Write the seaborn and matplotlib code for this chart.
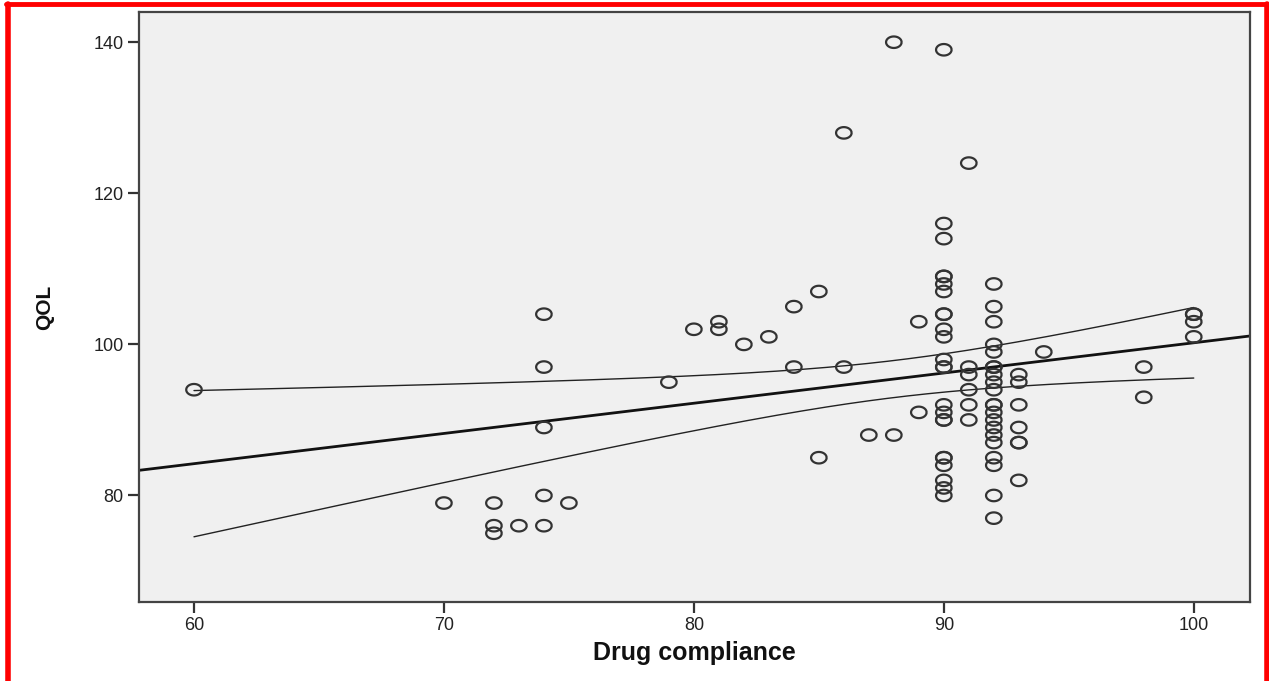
import numpy as np
import pandas as pd
import matplotlib
matplotlib.use("Agg")
import matplotlib.pyplot as plt
from matplotlib.path import Path
from matplotlib.lines import Line2D
import seaborn as sns

# ---- data ----
compliance = (
    [60, 70, 72, 72, 72, 73, 74, 74, 74, 74, 74, 75, 79, 80, 81, 81, 82, 83, 84, 84,
     85, 85, 86, 86, 87, 88, 88, 89, 89]
    + [90] * 24
    + [91] * 6
    + [92] * 21
    + [93] * 7
    + [94, 98, 98, 100, 100, 100, 100]
)
qol = (
    [94, 79, 79, 76, 75, 76, 104, 97, 89, 80, 76, 79, 95, 102, 103, 102, 100, 101, 105, 97,
     107, 85, 128, 97, 88, 140, 88, 103, 91]
    + [139, 116, 114, 109, 109, 108, 107, 104, 104, 102, 101, 98, 97, 97, 92, 91, 90, 90,
       85, 85, 84, 82, 81, 80]
    + [124, 97, 96, 94, 92, 90]
    + [108, 105, 103, 100, 99, 97, 97, 96, 95, 94, 92, 92, 91, 90, 89, 88, 87, 85, 84, 80, 77]
    + [96, 95, 92, 89, 87, 87, 82]
    + [99, 97, 93, 104, 104, 103, 101]
)

x_ticks = [60, 70, 80, 90, 100]
y_ticks = [80, 100, 120, 140]

df = pd.DataFrame({"Drug compliance": compliance, "QOL": qol})

# ---- figure ----
sns.set_theme(style="white")
plt.rcParams["font.family"] = ["Liberation Sans", "DejaVu Sans"]

W, H = 1269, 681
fig = plt.figure(figsize=(W / 100, H / 100), dpi=100)
fig.patch.set_facecolor("white")
ax = fig.add_axes([139 / W, 1 - 602 / H, (1250 - 139) / W, (602 - 12) / H])
ax.set_facecolor("#f0f0f0")

# elliptical open marker
t = np.linspace(0, 2 * np.pi, 60)
ell = Path(np.column_stack([1.35 * np.cos(t), np.sin(t)]))

sns.scatterplot(data=df, x="Drug compliance", y="QOL", ax=ax, marker=ell, s=125,
                facecolor="none", edgecolor="#333333", linewidth=1.6, zorder=3)

xlim = (57.8, 102.25)
ylim = (65.9, 144.0)

# linear fit and 95% CI of mean
xa = np.asarray(compliance, float)
ya = np.asarray(qol, float)
n = len(xa)
b, a = np.polyfit(xa, ya, 1)
resid = ya - (a + b * xa)
s = np.sqrt(np.sum(resid ** 2) / (n - 2))
xm = xa.mean()
sxx = np.sum((xa - xm) ** 2)
tval = 1.985
xx = np.linspace(xa.min(), xa.max(), 200)
fit = a + b * xx
se = s * np.sqrt(1 / n + (xx - xm) ** 2 / sxx)
ax.plot(xx, fit + tval * se, color="#222222", lw=1.0, zorder=2)
ax.plot(xx, fit - tval * se, color="#222222", lw=1.0, zorder=2)
xf = np.array(xlim)
ax.plot(xf, a + b * xf, color="#111111", lw=2.0, zorder=2)

ax.set_xlim(*xlim)
ax.set_ylim(*ylim)
ax.set_xticks(x_ticks)
ax.set_yticks(y_ticks)
ax.tick_params(axis="both", direction="out", length=8, width=1.6, color="#333333",
               labelsize=13, labelcolor="#222222", left=True, bottom=True, pad=3)
for sp in ax.spines.values():
    sp.set_color("#444444")
    sp.set_linewidth(1.6)
ax.set_xlabel("Drug compliance", fontsize=18, fontweight="bold", color="#111111", labelpad=5)
ax.set_ylabel("QOL", fontsize=15, fontweight="bold", color="#111111", labelpad=28)

# red frame around picture
red = "#ff0000"
fig.add_artist(Line2D([7.5 / W, 7.5 / W], [0, 1 - 4 / H], transform=fig.transFigure, color=red, lw=4))
fig.add_artist(Line2D([5.5 / W, 1267 / W], [1 - 4 / H, 1 - 4 / H], transform=fig.transFigure, color=red, lw=3.5))
fig.add_artist(Line2D([1266.5 / W, 1266.5 / W], [0, 1 - 4 / H], transform=fig.transFigure, color=red, lw=4))

fig.savefig("out.png", dpi=100)
